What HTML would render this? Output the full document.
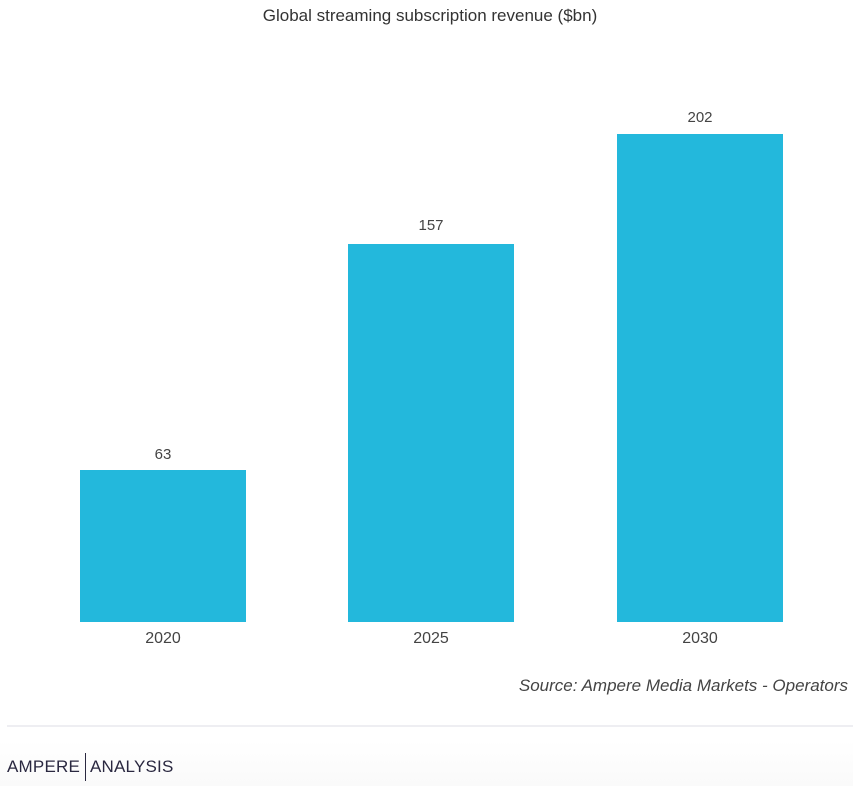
<!DOCTYPE html>
<html><head><style>
body{margin:0;width:853px;height:786px;background:#fff;font-family:"Liberation Sans",sans-serif;position:relative;overflow:hidden}
.t{position:absolute;white-space:nowrap;color:#444}
.b{position:absolute;background:#23b8dc;width:166px}
</style></head><body>
<div class="t" style="left:0;width:860px;text-align:center;top:6px;font-size:17px;color:#333">Global streaming subscription revenue ($bn)</div>
<div class="b" style="left:80px;top:470px;height:152px"></div>
<div class="b" style="left:348px;top:244px;height:378px"></div>
<div class="b" style="left:617px;top:134px;height:488px"></div>
<div class="t" style="left:80px;width:166px;text-align:center;top:446px;font-size:15px">63</div>
<div class="t" style="left:348px;width:166px;text-align:center;top:217px;font-size:15px">157</div>
<div class="t" style="left:617px;width:166px;text-align:center;top:109px;font-size:15px">202</div>
<div class="t" style="left:80px;width:166px;text-align:center;top:630px;font-size:16px">2020</div>
<div class="t" style="left:348px;width:166px;text-align:center;top:630px;font-size:16px">2025</div>
<div class="t" style="left:617px;width:166px;text-align:center;top:630px;font-size:16px">2030</div>
<div class="t" style="right:5px;top:676px;font-size:17px;font-style:italic;color:#444">Source: Ampere Media Markets - Operators</div>
<div style="position:absolute;left:7px;right:0;top:725px;height:2px;background:#eeeef2"></div>
<div style="position:absolute;left:0;right:0;top:740px;bottom:0;background:linear-gradient(#fff,#fafafa)"></div>
<div class="t" style="left:7px;top:757px;font-size:17px;color:#2a2840;letter-spacing:0.2px">AMPERE</div>
<div style="position:absolute;left:85px;top:753px;width:1px;height:28px;background:#2a2840"></div>
<div class="t" style="left:90px;top:757px;font-size:17px;color:#2a2840;letter-spacing:0.2px">ANALYSIS</div>
</body></html>
